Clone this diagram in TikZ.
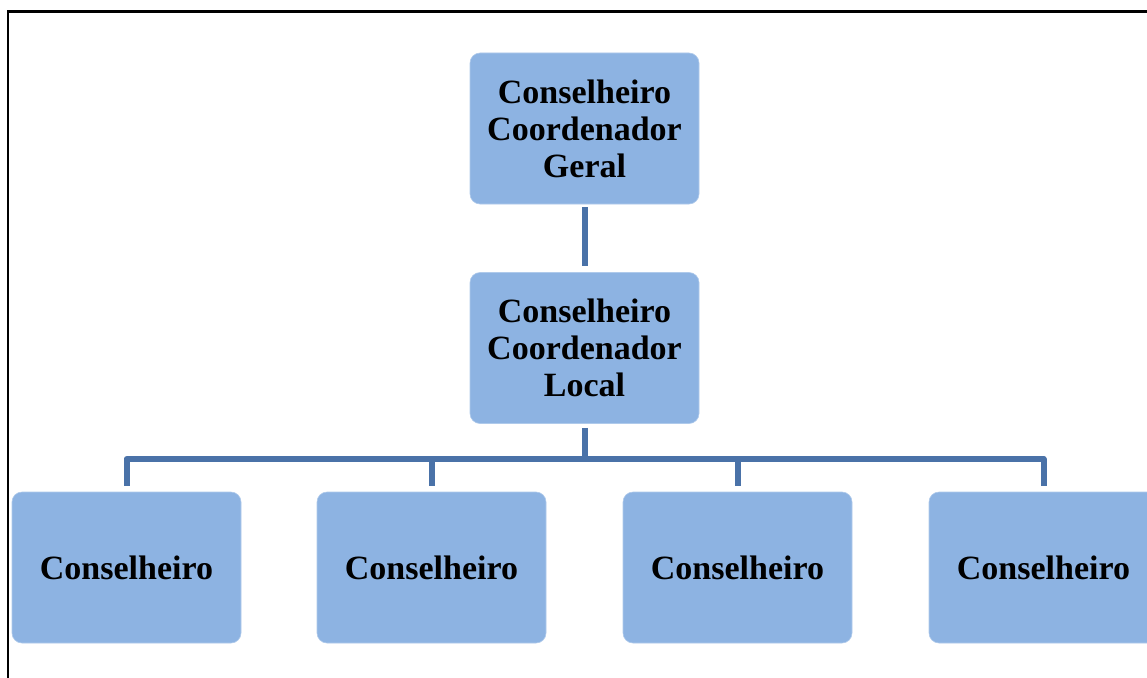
\documentclass[tikz,border=0pt]{standalone}
\usepackage{fontspec}
\setmainfont{Liberation Serif}
\definecolor{boxfill}{HTML}{8DB3E2}
\definecolor{linec}{HTML}{4A72A8}
\begin{document}
\begin{tikzpicture}[x=1pt,y=-1pt,
  orgbox/.style={fill=boxfill, draw=boxfill!70!white, line width=0.6pt, rounded corners=10pt,
    minimum width=229pt, minimum height=151pt, inner sep=0pt, align=center,
    text depth=0pt, font=\bfseries\fontsize{34}{37}\selectfont},
  conn/.style={draw=linec, line width=6pt, line join=round}]
\path[use as bounding box, clip] (0,0) rectangle (1147,677);
\fill[white] (0,0) rectangle (1147,677);
\draw[line width=2.4pt, black] (8,11.5) rectangle (1170,700);
\node[orgbox] (top) at (584.5,128.5) {Conselheiro\\Coordenador\\Geral};
\node[orgbox] (mid) at (584.5,348) {Conselheiro\\Coordenador\\Local};
\node[orgbox] (c1) at (126.5,567.5) {Conselheiro};
\node[orgbox] (c2) at (431.5,567.5) {Conselheiro};
\node[orgbox] (c3) at (737.5,567.5) {Conselheiro};
\node[orgbox] (c4) at (1043.5,567.5) {Conselheiro};
\coordinate (bar) at (584.5,459);
\draw[conn] ([yshift=-3pt]top.south) -- ([yshift=6pt]mid.north);
\draw[conn] ([yshift=-4pt]mid.south) -- (mid.south |- bar);
\draw[conn] ([yshift=6pt]c1.north) -- (c1.north |- bar) -- (c4.north |- bar) -- ([yshift=6pt]c4.north);
\draw[conn] ([yshift=6pt]c2.north) -- (c2.north |- bar);
\draw[conn] ([yshift=6pt]c3.north) -- (c3.north |- bar);
\end{tikzpicture}
\end{document}
